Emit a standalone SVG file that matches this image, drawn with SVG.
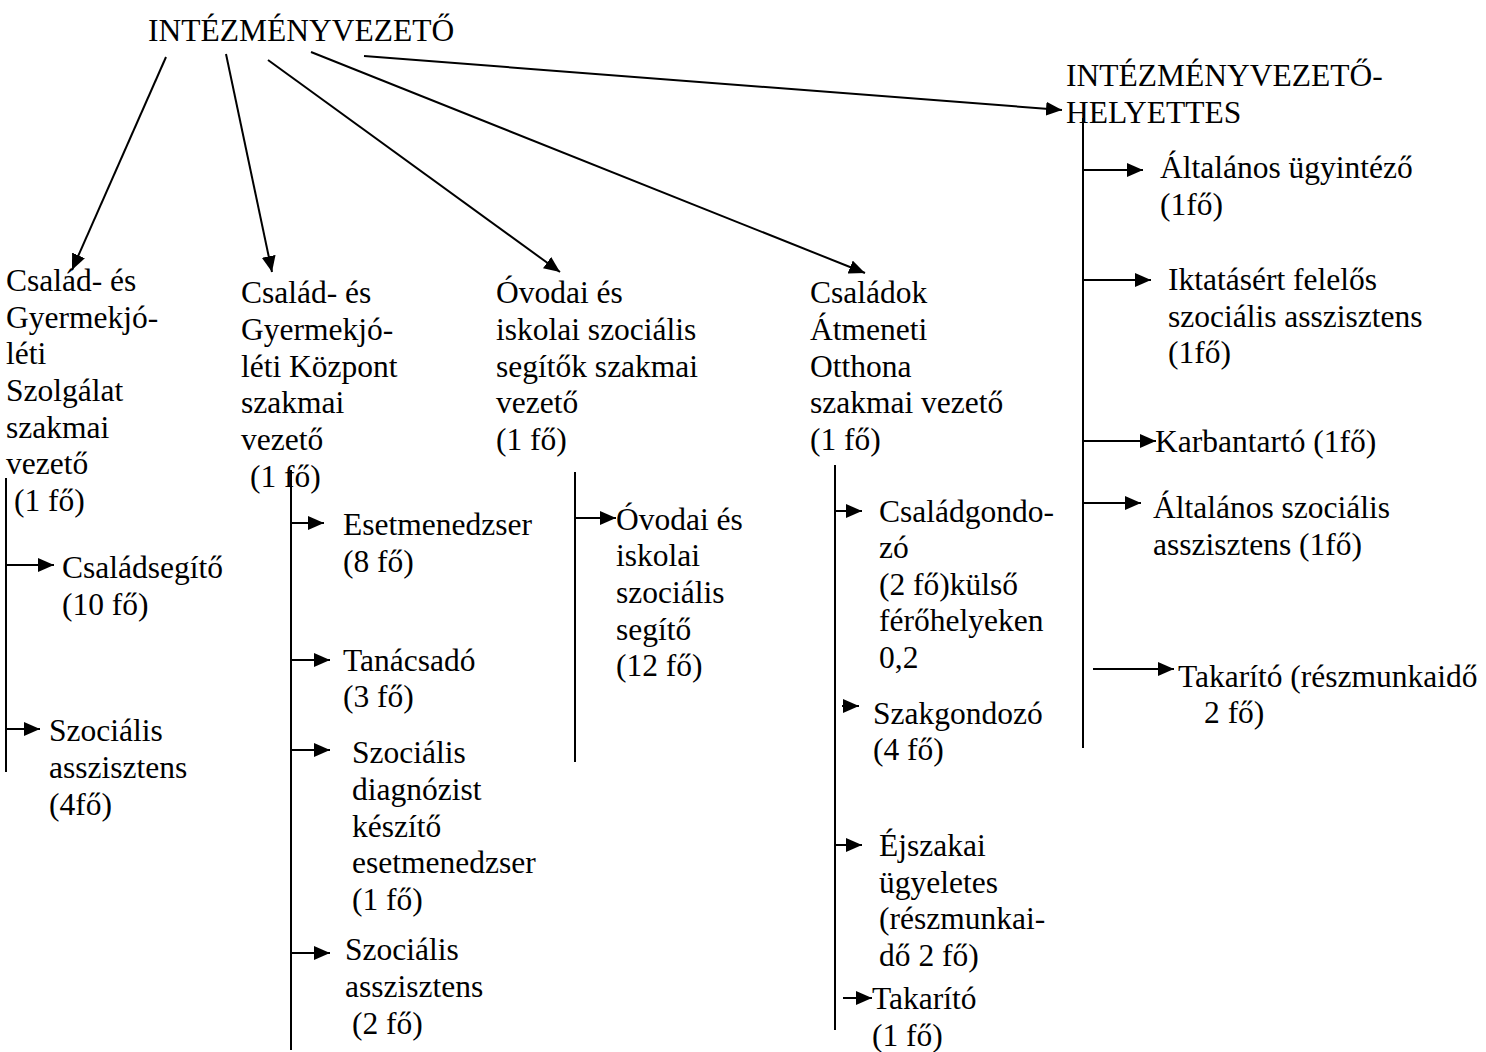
<svg xmlns="http://www.w3.org/2000/svg" width="1486" height="1052" viewBox="0 0 1486 1052">
<style>
text{font-family:"Liberation Serif","Times New Roman",serif;font-size:31.5px;fill:#000}
.c line{stroke:#000;stroke-width:2;fill:none}
</style>
<defs>
<marker id="ah" markerUnits="userSpaceOnUse" markerWidth="18" markerHeight="14" refX="16" refY="7" orient="auto">
<path d="M0,0 L16,7 L0,14 Z" fill="#000"/>
</marker>
</defs>
<rect width="1486" height="1052" fill="#fff"/>
<g id="n-root"><text x="148" y="41">INTÉZMÉNYVEZETŐ</text></g>
<g id="n-helyettes"><text x="1066" y="86">INTÉZMÉNYVEZETŐ-</text><text x="1066" y="123">HELYETTES</text></g>
<g id="n-col1"><text x="6" y="291">Család- és</text><text x="6" y="328">Gyermekjó-</text><text x="6" y="364">léti</text><text x="6" y="401">Szolgálat</text><text x="6" y="438">szakmai</text><text x="6" y="474">vezető</text><text x="14" y="511">(1 fő)</text></g>
<g id="n-col2"><text x="241" y="303">Család- és</text><text x="241" y="340">Gyermekjó-</text><text x="241" y="377">léti Központ</text><text x="241" y="413">szakmai</text><text x="241" y="450">vezető</text><text x="250" y="487">(1 fő)</text></g>
<g id="n-col3"><text x="496" y="303">Óvodai és</text><text x="496" y="340">iskolai szociális</text><text x="496" y="377">segítők szakmai</text><text x="496" y="413">vezető</text><text x="496" y="450">(1 fő)</text></g>
<g id="n-col4"><text x="810" y="303">Családok</text><text x="810" y="340">Átmeneti</text><text x="810" y="377">Otthona</text><text x="810" y="413">szakmai vezető</text><text x="810" y="450">(1 fő)</text></g>
<g id="n-csaladsegito"><text x="62" y="578">Családsegítő</text><text x="62" y="615">(10 fő)</text></g>
<g id="n-szocass1"><text x="49" y="741">Szociális</text><text x="49" y="778">asszisztens</text><text x="49" y="815">(4fő)</text></g>
<g id="n-esetmenedzser"><text x="343" y="535">Esetmenedzser</text><text x="343" y="572">(8 fő)</text></g>
<g id="n-tanacsado"><text x="343" y="671">Tanácsadó</text><text x="343" y="707">(3 fő)</text></g>
<g id="n-diagnozis"><text x="352" y="763">Szociális</text><text x="352" y="800">diagnózist</text><text x="352" y="837">készítő</text><text x="352" y="873">esetmenedzser</text><text x="352" y="910">(1 fő)</text></g>
<g id="n-szocass2"><text x="345" y="960">Szociális</text><text x="345" y="997">asszisztens</text><text x="352" y="1034">(2 fő)</text></g>
<g id="n-ovodai"><text x="616" y="530">Óvodai és</text><text x="616" y="566">iskolai</text><text x="616" y="603">szociális</text><text x="616" y="640">segítő</text><text x="616" y="676">(12 fő)</text></g>
<g id="n-csaladgondozo"><text x="879" y="522">Családgondo-</text><text x="879" y="558">zó</text><text x="879" y="595">(2 fő)külső</text><text x="879" y="631">férőhelyeken</text><text x="879" y="668">0,2</text></g>
<g id="n-szakgondozo"><text x="873" y="724">Szakgondozó</text><text x="873" y="760">(4 fő)</text></g>
<g id="n-ejszakai"><text x="879" y="856">Éjszakai</text><text x="879" y="893">ügyeletes</text><text x="879" y="929">(részmunkai-</text><text x="879" y="966">dő 2 fő)</text></g>
<g id="n-takarito1"><text x="872" y="1009">Takarító</text><text x="872" y="1046">(1 fő)</text></g>
<g id="n-ugyintezo"><text x="1160" y="178">Általános ügyintéző</text><text x="1160" y="215">(1fő)</text></g>
<g id="n-iktatas"><text x="1168" y="290">Iktatásért felelős</text><text x="1168" y="327">szociális asszisztens</text><text x="1168" y="363">(1fő)</text></g>
<g id="n-karbantarto"><text x="1155" y="452">Karbantartó (1fő)</text></g>
<g id="n-altszoc"><text x="1153" y="518">Általános szociális</text><text x="1153" y="555">asszisztens (1fő)</text></g>
<g id="n-takarito2"><text x="1178" y="687">Takarító (részmunkaidő</text><text x="1204" y="723">2 fő)</text></g>
<g id="connectors" class="c">
<line x1="166" y1="57" x2="72" y2="270" marker-end="url(#ah)"/>
<line x1="226" y1="54" x2="272" y2="272" marker-end="url(#ah)"/>
<line x1="268" y1="60" x2="560" y2="272" marker-end="url(#ah)"/>
<line x1="311" y1="52" x2="865" y2="273" marker-end="url(#ah)"/>
<line x1="364" y1="56" x2="1062" y2="110" marker-end="url(#ah)"/>
<line x1="6" y1="478" x2="6" y2="772"/>
<line x1="6" y1="565" x2="54" y2="565" marker-end="url(#ah)"/>
<line x1="6" y1="729" x2="40" y2="729" marker-end="url(#ah)"/>
<line x1="291" y1="470" x2="291" y2="1050"/>
<line x1="291" y1="523" x2="324" y2="523" marker-end="url(#ah)"/>
<line x1="291" y1="660" x2="330" y2="660" marker-end="url(#ah)"/>
<line x1="291" y1="750" x2="330" y2="750" marker-end="url(#ah)"/>
<line x1="291" y1="953" x2="330" y2="953" marker-end="url(#ah)"/>
<line x1="575" y1="472" x2="575" y2="762"/>
<line x1="575" y1="518" x2="616" y2="518" marker-end="url(#ah)"/>
<line x1="835" y1="465" x2="835" y2="1030"/>
<line x1="835" y1="511" x2="862" y2="511" marker-end="url(#ah)"/>
<line x1="842" y1="706" x2="859" y2="706" marker-end="url(#ah)"/>
<line x1="835" y1="845" x2="862" y2="845" marker-end="url(#ah)"/>
<line x1="843" y1="998" x2="872" y2="998" marker-end="url(#ah)"/>
<line x1="1083" y1="118" x2="1083" y2="748"/>
<line x1="1083" y1="170" x2="1143" y2="170" marker-end="url(#ah)"/>
<line x1="1083" y1="280" x2="1151" y2="280" marker-end="url(#ah)"/>
<line x1="1083" y1="441" x2="1156" y2="441" marker-end="url(#ah)"/>
<line x1="1083" y1="503" x2="1141" y2="503" marker-end="url(#ah)"/>
<line x1="1093" y1="669" x2="1174" y2="669" marker-end="url(#ah)"/>
</g>
</svg>
